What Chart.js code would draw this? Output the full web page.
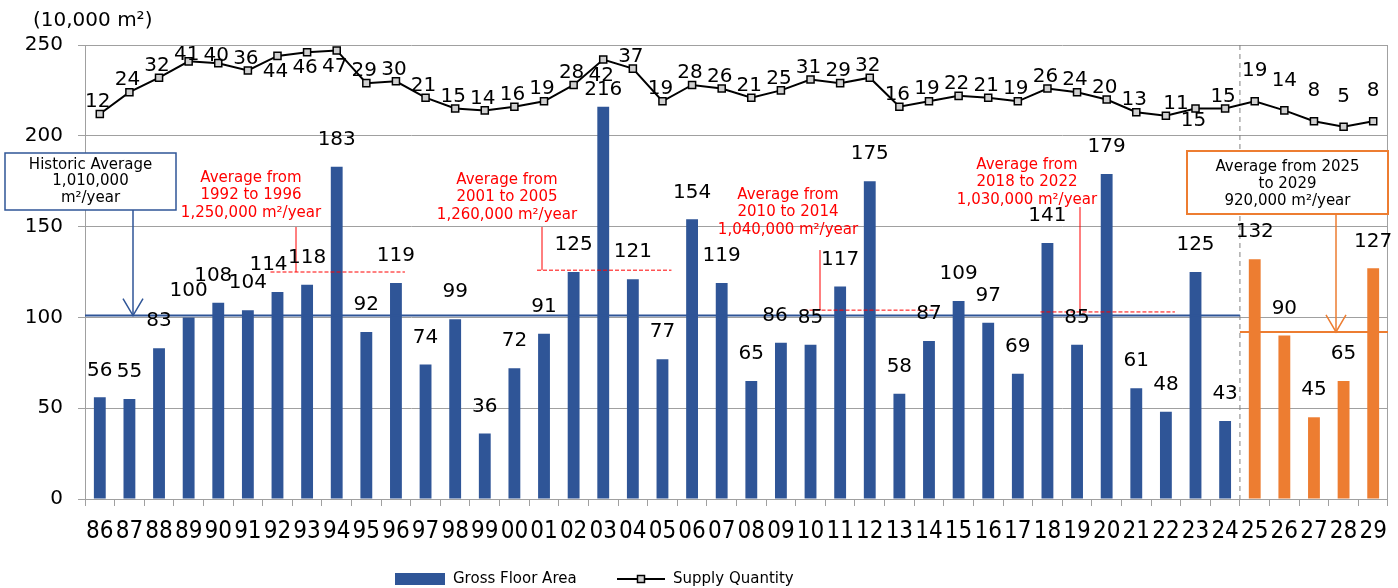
<!DOCTYPE html>
<html>
<head>
<meta charset="utf-8">
<script src="https://cdn.jsdelivr.net/npm/chart.js@4"></script>
<style>
  html, body { margin: 0; padding: 0; background: #fff; }
  #wrap { width: 1398px; height: 588px; position: relative; }
</style>
</head>
<body>
<div id="wrap"><canvas id="c"></canvas></div>
<script>
// Years (two-digit), 1986 to 2029; from 2025 on the figures are forecasts
const years = ['86','87','88','89','90','91','92','93','94','95','96','97','98','99',
  '00','01','02','03','04','05','06','07','08','09','10','11','12','13','14','15',
  '16','17','18','19','20','21','22','23','24','25','26','27','28','29'];

// Gross floor area supplied per year (10,000 m²)
const grossFloorArea = [56,55,83,100,108,104,114,118,183,92,119,74,99,36,
  72,91,125,216,121,77,154,119,65,86,85,117,175,58,87,109,
  97,69,141,85,179,61,48,125,43,132,90,45,65,127];

// Number of buildings supplied per year
const supplyQuantity = [12,24,32,41,40,36,44,46,47,29,30,21,15,14,
  16,19,28,42,37,19,28,26,21,25,31,29,32,16,19,22,
  21,19,26,24,20,13,11,15,15,19,14,8,5,8];

const yTicks = [0, 50, 100, 150, 200, 250];
const forecastStart = '25';

// Reference averages (10,000 m²/year)
const historicAverage = 101;
const forecastAverage = 92;
const periodFrom  = ['92', '01', '10', '18'];
const periodTo    = ['96', '05', '14', '22'];
const periodValue = [125, 126, 104, 103];
const periodText  = [
  ['Average from', '1992 to 1996', '1,250,000 m²/year'],
  ['Average from', '2001 to 2005', '1,260,000 m²/year'],
  ['Average from', '2010 to 2014', '1,040,000 m²/year'],
  ['Average from', '2018 to 2022', '1,030,000 m²/year']
];

const FONT = "'DejaVu Sans', Verdana, sans-serif";
const NARROW = "'Liberation Sans Narrow', 'DejaVu Sans Condensed', 'DejaVu Sans', sans-serif";
const BLUE = '#2F5597';
const ORANGE = '#ED7D31';
const RED = '#FF0000';
const GRID = '#a0a0a0';

const forecastIdx = years.indexOf(forecastStart);
const barColors = years.map((y, i) => i >= forecastIdx ? ORANGE : BLUE);

// Text placement of the period-average notes and their leader lines
const periodLayout = [
  { tx: 251,  ty: 178, vx: 296,  vtop: 227 },
  { tx: 507,  ty: 180, vx: 542,  vtop: 227 },
  { tx: 788,  ty: 195, vx: 820,  vtop: 250 },
  { tx: 1027, ty: 165, vx: 1080, vtop: 207 }
];

function arrowDown(ctx, x, y0, y1, color) {
  ctx.strokeStyle = color;
  ctx.lineWidth = 1.5;
  ctx.beginPath(); ctx.moveTo(x, y0); ctx.lineTo(x, y1); ctx.stroke();
  ctx.beginPath();
  ctx.moveTo(x - 10, y1 - 17); ctx.lineTo(x, y1); ctx.lineTo(x + 10, y1 - 17);
  ctx.stroke();
}

function textLines(ctx, lines, cx, cy, step) {
  lines.forEach((t, k) => ctx.fillText(t, cx, cy + k * step));
}

const overlay = {
  id: 'overlay',
  beforeDatasetsDraw(chart) {
    const { ctx, chartArea: a, scales: { x } } = chart;
    ctx.save();
    // right frame line of the plot area
    ctx.strokeStyle = GRID; ctx.lineWidth = 1;
    ctx.beginPath(); ctx.moveTo(a.right - 0.5, a.top); ctx.lineTo(a.right - 0.5, a.bottom); ctx.stroke();
    // separator between actual results and forecasts
    const sx = (x.getPixelForValue(forecastIdx - 1) + x.getPixelForValue(forecastIdx)) / 2;
    ctx.setLineDash([5, 4]);
    ctx.strokeStyle = '#808080';
    ctx.beginPath(); ctx.moveTo(sx, a.top); ctx.lineTo(sx, a.bottom); ctx.stroke();
    ctx.restore();
  },
  afterDatasetsDraw(chart) {
    const { ctx, chartArea: a, scales: { x, y } } = chart;
    const sx = (x.getPixelForValue(forecastIdx - 1) + x.getPixelForValue(forecastIdx)) / 2;
    ctx.save();

    // historic average line and its note
    const hy = y.getPixelForValue(historicAverage);
    ctx.strokeStyle = BLUE; ctx.lineWidth = 2;
    ctx.beginPath(); ctx.moveTo(a.left, hy); ctx.lineTo(sx, hy); ctx.stroke();
    ctx.fillStyle = '#fff'; ctx.fillRect(5, 153, 171, 57);
    ctx.lineWidth = 1.5; ctx.strokeRect(5, 153, 171, 57);
    arrowDown(ctx, 133, 210, hy, BLUE);
    ctx.fillStyle = '#000';
    ctx.font = '15px ' + FONT; ctx.textAlign = 'center'; ctx.textBaseline = 'middle';
    textLines(ctx, ['Historic Average', '1,010,000', 'm²/year'], 90.5, 165, 16.5);

    // forecast average line and its note
    const fy = y.getPixelForValue(forecastAverage);
    ctx.strokeStyle = ORANGE; ctx.lineWidth = 2;
    ctx.beginPath(); ctx.moveTo(sx, fy); ctx.lineTo(a.right, fy); ctx.stroke();
    ctx.fillStyle = '#fff'; ctx.fillRect(1187, 151, 201, 63);
    ctx.strokeRect(1187, 151, 201, 63);
    arrowDown(ctx, 1336, 214, fy, ORANGE);
    ctx.fillStyle = '#000';
    textLines(ctx, ['Average from 2025', 'to 2029', '920,000 m²/year'], 1287.5, 167, 17);

    // five-year period averages
    periodValue.forEach((v, k) => {
      const L = periodLayout[k];
      const py = y.getPixelForValue(v);
      const x0 = x.getPixelForValue(years.indexOf(periodFrom[k])) - 7;
      const x1 = x.getPixelForValue(years.indexOf(periodTo[k])) + 9;
      ctx.strokeStyle = RED; ctx.lineWidth = 1;
      ctx.setLineDash([4, 2]);
      ctx.beginPath(); ctx.moveTo(x0, py); ctx.lineTo(x1, py); ctx.stroke();
      ctx.setLineDash([]);
      ctx.beginPath(); ctx.moveTo(L.vx, L.vtop); ctx.lineTo(L.vx, py); ctx.stroke();
      ctx.fillStyle = RED;
      textLines(ctx, periodText[k], L.tx, L.ty, 17.5);
    });

    // value labels of the bars
    ctx.fillStyle = '#000';
    ctx.font = '20px ' + FONT;
    const barShift = { '90': [-5, 0], '92': [-9, 0], '03': [0, 10], '09': [-6, 0] };
    chart.getDatasetMeta(1).data.forEach((el, i) => {
      const s = barShift[years[i]] || [0, 0];
      ctx.fillText(String(grossFloorArea[i]), el.x + s[0], el.y - 27 + s[1]);
    });

    // value labels of the supply line
    const below = ['92', '93', '94', '03'];
    chart.getDatasetMeta(0).data.forEach((el, i) => {
      const yr = years[i];
      let dx = -2, dy = -12;
      if (below.includes(yr)) dy = 16;
      else if (yr === '23') dy = 12;
      else if (yr === '89' || yr === '90') dy = -7;
      else if (i >= forecastIdx) { dy = -30; dx = 0; }
      if (yr === '22') dx = 10;
      ctx.fillText(String(supplyQuantity[i]), el.x + dx, el.y + dy);
    });
    ctx.restore();
  },
  afterDraw(chart) {
    const { ctx } = chart;
    ctx.save();
    ctx.fillStyle = '#000';
    ctx.textBaseline = 'middle';
    ctx.textAlign = 'left';
    ctx.font = '20px ' + FONT;
    ctx.fillText('(10,000 m²)', 33, 21);

    // legend
    ctx.fillStyle = BLUE; ctx.fillRect(395, 573, 50, 12);
    ctx.fillStyle = '#000'; ctx.font = '15px ' + FONT;
    ctx.fillText('Gross Floor Area', 453, 579);
    ctx.strokeStyle = '#000'; ctx.lineWidth = 2;
    ctx.beginPath(); ctx.moveTo(617, 579); ctx.lineTo(665, 579); ctx.stroke();
    ctx.fillStyle = '#d0d0d0'; ctx.lineWidth = 1.5;
    ctx.fillRect(637.5, 575.5, 7, 7); ctx.strokeRect(637.5, 575.5, 7, 7);
    ctx.fillStyle = '#000';
    ctx.fillText('Supply Quantity', 673, 579);
    ctx.restore();
  }
};

new Chart(document.getElementById('c'), {
  data: {
    labels: years,
    datasets: [
      {
        type: 'line',
        label: 'Supply Quantity',
        data: supplyQuantity,
        yAxisID: 'y2',
        borderColor: '#000',
        borderWidth: 2,
        pointStyle: 'rect',
        pointRadius: 5,
        pointBackgroundColor: '#d0d0d0',
        pointBorderColor: '#000',
        pointBorderWidth: 1.5,
        tension: 0,
        order: 0
      },
      {
        type: 'bar',
        label: 'Gross Floor Area',
        data: grossFloorArea,
        yAxisID: 'y',
        backgroundColor: barColors,
        categoryPercentage: 1,
        barPercentage: 0.4,
        order: 1
      }
    ]
  },
  options: {
    responsive: true,
    maintainAspectRatio: false,
    animation: false,
    layout: { padding: { top: 45, right: 3, left: 0, bottom: 0 } },
    plugins: { legend: { display: false }, tooltip: { enabled: false } },
    scales: {
      x: {
        grid: { display: true, drawOnChartArea: false, drawTicks: true, tickLength: 7, color: GRID },
        border: { display: true, color: GRID, width: 1 },
        ticks: { font: { family: NARROW, size: 24 }, color: '#000', padding: 11, autoSkip: false, maxRotation: 0 },
        afterFit(s) { s.height = 89; }
      },
      y: {
        position: 'left',
        min: 0, max: 250,
        afterBuildTicks(s) { s.ticks = yTicks.map(v => ({ value: v })); },
        grid: { color: GRID, lineWidth: 1, tickLength: 7 },
        border: { display: true, color: GRID, width: 1 },
        ticks: { font: { family: FONT, size: 20 }, color: '#000', padding: 15 },
        afterFit(s) { s.width = 85; }
      },
      y2: {
        position: 'right',
        display: false,
        min: -200, max: 50
      }
    }
  },
  plugins: [overlay]
});
</script>
</body>
</html>
